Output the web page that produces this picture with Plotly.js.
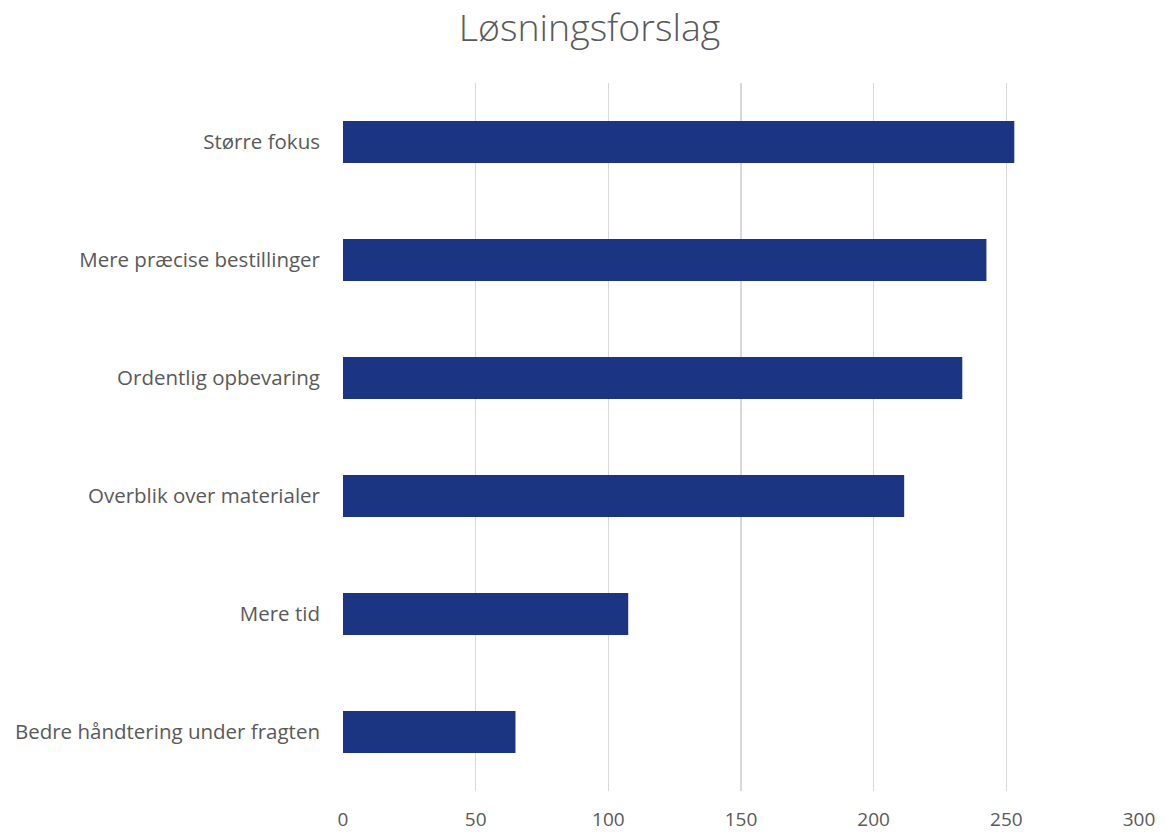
<!DOCTYPE html>
<html>
<head>
<meta charset="utf-8">
<script src="https://cdn.plot.ly/plotly-3.0.1.min.js"></script>
<style>html,body{margin:0;padding:0;background:#fff;}#chart{width:1165px;height:832px;}</style>
</head>
<body>
<div id="chart"></div>
<script>
const categories = ["Bedre håndtering under fragten", "Mere tid", "Overblik over materialer", "Ordentlig opbevaring", "Mere præcise bestillinger", "Større fokus"];
const values = [65, 107.5, 211.5, 233.4, 242.5, 253];
const xTicks = [0, 50, 100, 150, 200, 250, 300];

Plotly.newPlot('chart', [{
  type: 'bar',
  orientation: 'h',
  y: categories,
  x: values,
  marker: {color: '#1b3583'},
  hoverinfo: 'x+y'
}], {
  width: 1165, height: 832,
  margin: {l: 343, r: 26, t: 83, b: 41},
  paper_bgcolor: '#fff', plot_bgcolor: '#fff',
  title: {text: 'Løsningsforslag', x: 0.506, xanchor: 'center', y: 0.967, yanchor: 'middle',
          font: {family: 'Open Sans', size: 37.5, color: '#595959', weight: 300}},
  bargap: 0.644,
  showlegend: false,
  xaxis: {range: [0, 300], tickvals: xTicks, ticktext: xTicks.map(String),
          showgrid: true, gridcolor: '#d9d9d9', gridwidth: 1.5, zeroline: false, showline: false,
          ticks: '', ticklen: 0, ticklabelstandoff: 15,
          tickfont: {family: 'Open Sans', size: 19, color: '#595959'}, fixedrange: true},
  yaxis: {showgrid: false, zeroline: false, showline: false, ticks: '', ticklabelstandoff: 22,
          tickfont: {family: 'Open Sans', size: 20.5, color: '#595959'}, automargin: false}
}, {displayModeBar: false, staticPlot: true});
</script>
</body>
</html>
